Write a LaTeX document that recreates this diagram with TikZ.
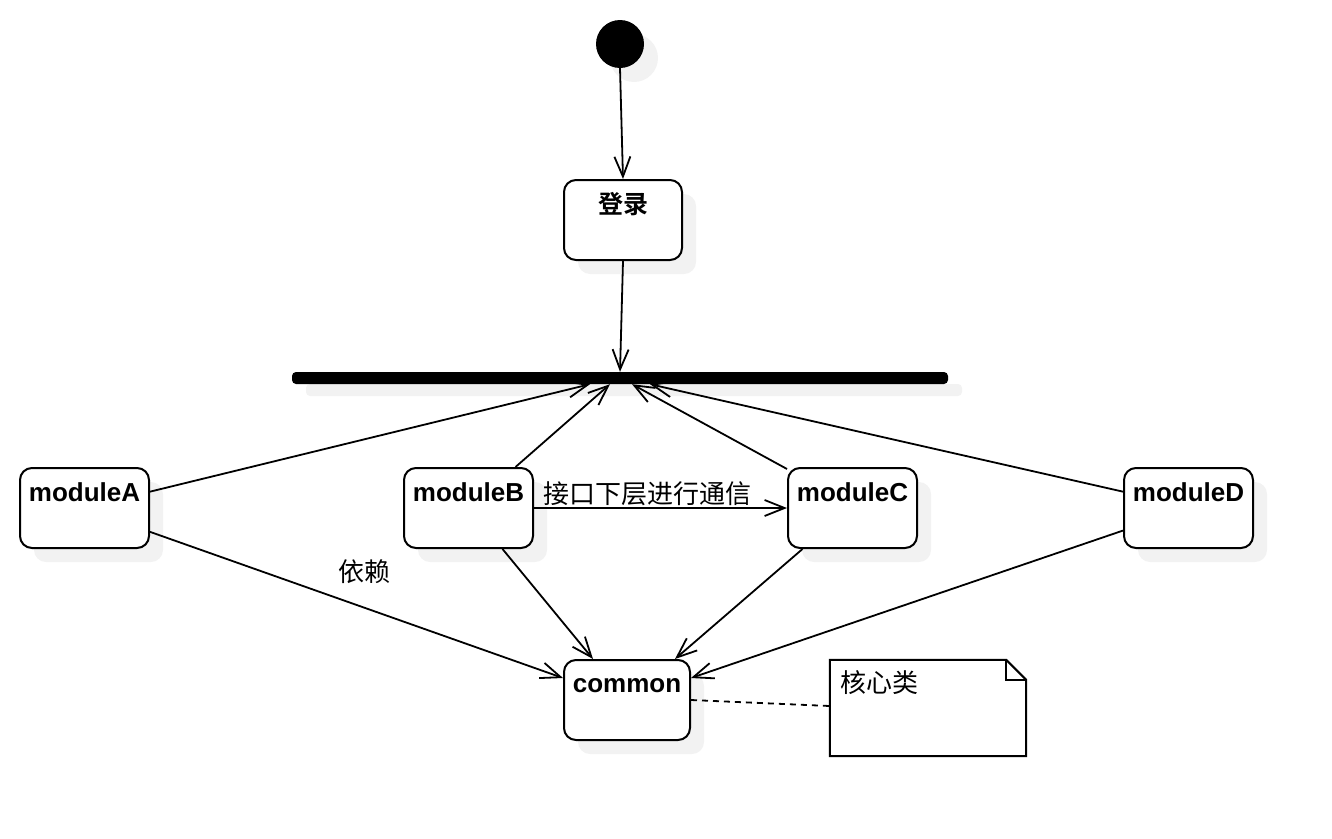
\documentclass[tikz,border=0pt]{standalone}
\usepackage{fontspec}
\setmainfont{Liberation Sans}
\newfontfamily\cjk{Noto Sans CJK SC}[BoldFont={Noto Sans CJK SC Bold}]
\usetikzlibrary{arrows.meta,shadows,calc}

\begin{document}
\begin{tikzpicture}[%
    x=1pt, y=-1pt,
    shadowed/.style={%
        drop shadow={shadow xshift=14pt, shadow yshift=-14pt, fill=black!5, opacity=1}
    },
    startnode/.style={%
        circle,
        fill=black,
        minimum size=48pt,
        inner sep=0pt,
        shadowed
    },
    statebox/.style={%
        draw,
        line width=2pt,
        rounded corners=12pt,
        fill=white,
        minimum width=129pt,
        minimum height=80pt,
        inner sep=0pt,
        shadowed
    },
    forkbar/.style={%
        fill=black,
        rounded corners=4pt,
        minimum width=656pt,
        minimum height=12pt,
        inner sep=0pt,
        drop shadow={shadow xshift=14pt, shadow yshift=-12pt, fill=black!5, opacity=1}
    },
    boxlabel/.style={%
        anchor=center,
        yshift=-25pt,
        inner sep=0pt,
        font=\fontsize{26pt}{30pt}\selectfont\bfseries
    },
    cjklabel/.style={%
        inner sep=1pt,
        font=\fontsize{26pt}{30pt}\selectfont\cjk
    },
    flow/.style={%
        line width=1.8pt,
        -{Straight Barb[length=20pt,width=16pt,line width=1.8pt]}
    }
]
\useasboundingbox (0,0) rectangle (1332,838);

% Start and login
    \node[startnode] (start) at (620,44) {};
    \node[statebox, minimum width=118pt,
        label={[boxlabel, font=\fontsize{25pt}{30pt}\selectfont\cjk\bfseries]north:登录}] (login) at (623,220) {};

% Fork bar
    \node[forkbar] (bar) at (620,378) {};

% Modules
    \node[statebox, label={[boxlabel]north:moduleA}] (modA) at (84.5,508) {};
    \node[statebox, label={[boxlabel]north:moduleB}] (modB) at (468.5,508) {};
    \node[statebox, label={[boxlabel]north:moduleC}] (modC) at (852.5,508) {};
    \node[statebox, label={[boxlabel]north:moduleD}] (modD) at (1188.5,508) {};

% Common
    \node[statebox, minimum width=126pt, label={[boxlabel, yshift=-2pt]north:common}] (common) at (627,700) {};

% Note
    \node[minimum width=196pt, minimum height=96pt, inner sep=0pt] (note) at (928,708) {};
    \draw[line width=2pt, fill=white]
        (note.north west) -- ($(note.north east)+(-20,0)$) -- ($(note.north east)+(0,20)$)
        -- (note.south east) -- (note.south west) -- cycle;
    \draw[line width=2pt]
        ($(note.north east)+(-20,0)$) -- ($(note.north east)+(-20,20)$) -- ($(note.north east)+(0,20)$);
    \node[cjklabel, anchor=north west] (noteText) at ($(note.north west)+(9,10)$) {核心类};

% Arrows
\draw[flow] (start.south) -- (login.north);
\draw[flow] (login.south) -- (bar.north);

\draw[flow] (modA.14) -- ($(bar.south)+(-30,0)$);
\draw[flow] ($(modB.north)+(47,0)$) -- ($(bar.south)+(-10,0)$);
\draw[flow] ($(modC.north west)+(0,2)$) -- ($(bar.south)+(12,0)$);
\draw[flow] (modD.166) -- ($(bar.south)+(30,0)$);

\draw[flow] (modB.east) -- node[cjklabel, pos=0.45, above] {接口下层进行通信} (modC.west);

\draw[flow] (modA.-20) -- node[cjklabel, pos=0.52, above=22pt] {依赖} ($(common.west)+(0,-22)$);
\draw[flow] ($(modB.south)+(34,0)$) -- ($(common.north)+(-34,0)$);
\draw[flow] ($(modC.south)+(-50,0)$) -- ($(common.north)+(48,0)$);
\draw[flow] (modD.199) -- ($(common.east)+(0,-22)$);

\draw[line width=1.8pt, dashed, dash pattern=on 6pt off 5pt] (common.east) -- ($(note.west)+(0,-2)$);

\end{tikzpicture}
\end{document}
